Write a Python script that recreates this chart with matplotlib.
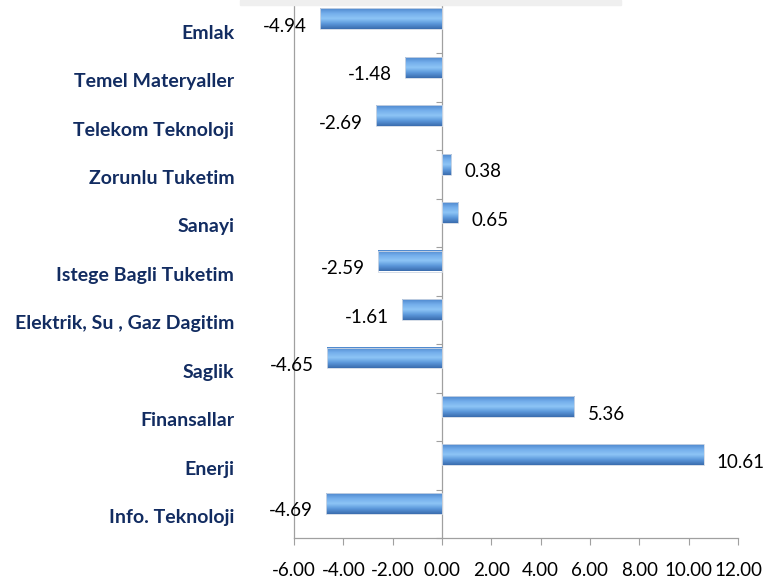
import numpy as np
import matplotlib
matplotlib.use("Agg")
from matplotlib import pyplot as plt
from matplotlib.colors import LinearSegmentedColormap
from matplotlib.patches import Rectangle

# 数据
sectors = ["Info. Teknoloji", "Enerji", "Finansallar", "Saglik",
           "Elektrik, Su , Gaz Dagitim", "Istege Bagli Tuketim", "Sanayi",
           "Zorunlu Tuketim", "Telekom Teknoloji", "Temel Materyaller", "Emlak"]
changes = [-4.69, 10.61, 5.36, -4.65, -1.61, -2.59, 0.65, 0.38, -2.69, -1.48, -4.94]
xticks = [-6, -4, -2, 0, 2, 4, 6, 8, 10, 12]

plt.rcParams["font.family"] = ["Lato", "DejaVu Sans"]

fig = plt.figure(figsize=(7.64, 5.78), dpi=100)
# top strip from the neighbouring block
fig.patches.append(Rectangle((240 / 764, 1 - 5 / 578), 381 / 764, 5 / 578,
                             transform=fig.transFigure, color="#EFEFEF", zorder=0))
ax = fig.add_axes([294 / 764, 40 / 578, 444 / 764, 533 / 578])

pos = np.arange(len(sectors))
bar_h = 0.43
shift = 0.215  # bars sit in upper part of category (empty 2nd series)
bars = ax.barh(pos + shift, changes, height=bar_h, color="none",
               edgecolor="#D0D8E4", linewidth=0.6, zorder=3)

# gradient fill
grad = LinearSegmentedColormap.from_list(
    "g", ["#3A6CAE", "#5B97DA", "#8DC5F6", "#74AEEB", "#4E88CE"])
g = np.linspace(0, 1, 64).reshape(-1, 1)
for b in bars:
    x0, y0 = b.get_x(), b.get_y()
    x1, y1 = x0 + b.get_width(), y0 + b.get_height()
    ax.imshow(g, cmap=grad, origin="lower", aspect="auto",
              extent=[min(x0, x1), max(x0, x1), y0, y1], zorder=2)

# data labels
for p, v in zip(pos, changes):
    ax.annotate(f"{v:.2f}", (v, p + shift), xytext=(9.5 if v > 0 else -9.5, -5.5),
                textcoords="offset points", ha="left" if v > 0 else "right",
                va="center", fontsize=13.5, color="black")

ax.set_xlim(-6, 12)
ax.set_ylim(-0.5, len(sectors) - 0.5)
ax.set_xticks(xticks)
ax.set_xticklabels([f"{t:.2f}" for t in xticks], fontsize=13.5)
ax.tick_params(axis="x", direction="out", length=5, width=0.8, color="#A0A0A0", pad=12)

ax.set_yticks(pos - 0.05)
ax.set_yticklabels(sectors, fontsize=14, fontweight="bold", color="#122C61")
ax.tick_params(axis="y", length=0, pad=43)

for s in ["top", "right"]:
    ax.spines[s].set_visible(False)
for s in ["left", "bottom"]:
    ax.spines[s].set_color("#A0A0A0")
    ax.spines[s].set_linewidth(0.9)

# zero axis with category tick marks
zero_ax = ax.secondary_yaxis(6 / 18)
zero_ax.set_yticks(np.arange(len(sectors) + 1) - 0.5)
zero_ax.set_yticklabels([])
zero_ax.tick_params(direction="out", length=4.5, width=0.8, color="#A0A0A0")
zero_ax.spines["left"].set_color("#A0A0A0")
zero_ax.spines["left"].set_linewidth(0.9)

fig.savefig("out.png", dpi=100)
